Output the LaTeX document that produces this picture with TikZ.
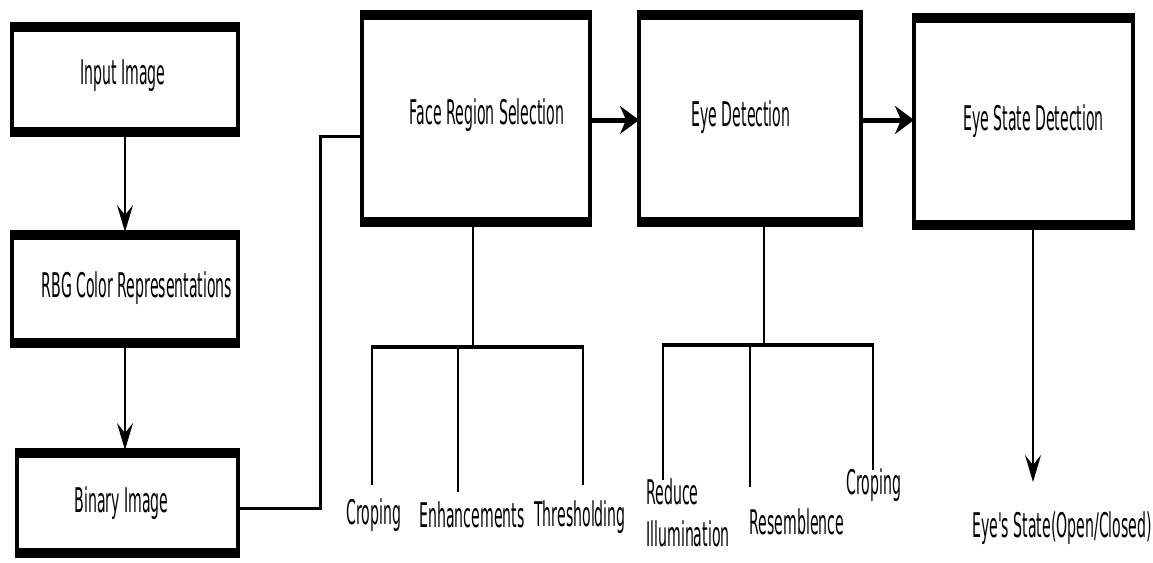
\documentclass[tikz,border=0pt]{standalone}
\usepackage{fontspec}
\newfontfamily\diagfont[FakeStretch=0.415]{DejaVu Sans}
\usetikzlibrary{arrows.meta}
\begin{document}
\begin{tikzpicture}[x=1pt,y=-1pt,
  box/.style={draw, line width=4pt, inner sep=0pt, outer sep=0pt},
  band/.style={line width=10pt},
  txt/.style={font=\diagfont\fontsize{34}{40}\selectfont, inner sep=0pt},
  vthin/.style={line width=2pt},
  harrow/.style={line width=5pt, -{Stealth[length=19pt,width=28pt,inset=6pt]}},
  varrow/.style={line width=2pt, -{Stealth[length=27pt,width=16pt,inset=10pt]}},
  bar/.style={line width=4.5pt},
  link/.style={line width=3pt}]
\useasboundingbox (0,0) rectangle (1153,562);

% main boxes
\node[box, minimum width=226pt, minimum height=111pt,
  label={[txt,xshift=-2pt,yshift=4pt]center:Input Image}] (in) at (125,79.5) {};
\node[box, minimum width=226pt, minimum height=114pt,
  label={[txt,xshift=12pt,yshift=1pt]center:RBG Color Representations}] (rbg) at (125,289) {};
\node[box, minimum width=221pt, minimum height=106pt,
  label={[txt,xshift=-6pt]center:Binary Image}] (bin) at (127.5,503) {};
\node[box, minimum width=228pt, minimum height=213pt,
  label={[txt,xshift=11pt,yshift=3pt]center:Face Region Selection}] (face) at (476,118.5) {};
\node[box, minimum width=222pt, minimum height=213pt,
  label={[txt,xshift=-9pt,yshift=1pt]center:Eye Detection}] (eye) at (750,118.5) {};
\node[box, minimum width=219pt, minimum height=213pt,
  label={[txt,xshift=10pt,yshift=0pt]center:Eye State Detection}] (state) at (1023.5,121.5) {};

% thick top and bottom bands
\foreach \n in {in,rbg,bin,face,eye,state}{
  \draw[band] ([xshift=-2pt,yshift=-3pt]\n.north west) -- ([xshift=2pt,yshift=-3pt]\n.north east);
  \draw[band] ([xshift=-2pt,yshift=3pt]\n.south west) -- ([xshift=2pt,yshift=3pt]\n.south east);
}

% left column arrows
\draw[varrow] (in.south) -- (in.south |- rbg.north);
\draw[varrow] (rbg.south) -- (rbg.south |- bin.north);

% binary -> face
\draw[link] ([yshift=-5pt]bin.east) -- ++(82,0) |- ([yshift=-17.5pt]face.west);

% top arrows
\draw[harrow] ([yshift=-1.5pt]face.east) -- ([yshift=-1.5pt]face.east -| eye.west);
\draw[harrow] ([yshift=-1.5pt]eye.east) -- ([yshift=-1.5pt]eye.east -| state.west);

% face sub-steps
\coordinate (fj) at (473,347);
\coordinate (fl) at (372,347);
\coordinate (fm) at (458,347);
\coordinate (fr) at (583,347);
\coordinate (f1) at (372,485);
\coordinate (f2) at (458,492);
\coordinate (f3) at (583,485);
\draw[vthin] ([xshift=-3pt]face.south) -- (fj);
\draw[bar] ([xshift=-1pt]fl) -- ([xshift=1pt]fr);
\draw[vthin] (fl) -- (f1);
\draw[vthin] (fm) -- (f2);
\draw[vthin] (fr) -- (f3);
\node[txt] (crop1) at (374,515) {Croping};
\node[txt] (enh) at (472,515) {Enhancements};
\node[txt] (thr) at (580,517) {Thresholding};

% eye sub-steps
\coordinate (ej) at (764,345);
\coordinate (el) at (663,345);
\coordinate (em) at (750,345);
\coordinate (er) at (873,345);
\coordinate (e1) at (663,480);
\coordinate (e2) at (750,487);
\coordinate (e3) at (873,470);
\draw[vthin] ([xshift=14pt]eye.south) -- (ej);
\draw[bar] ([xshift=-1pt]el) -- ([xshift=1pt]er);
\draw[vthin] (el) -- (e1);
\draw[vthin] (em) -- (e2);
\draw[vthin] (er) -- (e3);
\node[txt, align=left, font=\diagfont\fontsize{34}{42}\selectfont] (red) at (688,513) {Reduce\\Illumination};
\node[txt] (res) at (797,522) {Resemblence};
\node[txt] (crop2) at (874,485) {Croping};

% eye state output
\coordinate (st) at (1033,482);
\draw[varrow] ([xshift=9.5pt]state.south) -- (st);
\node[txt] (out) at (1062,528) {Eye's State(Open/Closed)};
\end{tikzpicture}
\end{document}
